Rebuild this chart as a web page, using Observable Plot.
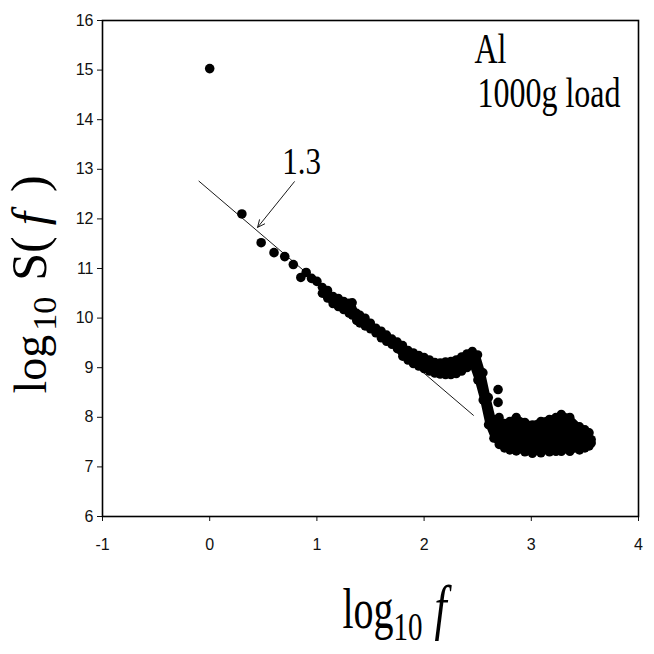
<!DOCTYPE html>
<html>
<head>
<meta charset="utf-8">
<script src="https://cdn.jsdelivr.net/npm/d3@7"></script>
<script src="https://cdn.jsdelivr.net/npm/@observablehq/plot@0.6"></script>
<style>
  html, body { margin: 0; padding: 0; background: #fff; }
  #chart { width: 654px; height: 654px; }
</style>
</head>
<body>
<div id="chart"></div>
<script>
// ---- data ----
const xTicks = [-1, 0, 1, 2, 3, 4];
const yTicks = [6, 7, 8, 9, 10, 11, 12, 13, 14, 15, 16];

// individually visible points (log10 f, log10 S(f))
const pointX = [0.00, 0.30, 0.48, 0.60, 0.70, 0.78, 0.85, 0.90, 0.95, 1.00, 2.69, 2.69];
const pointY = [15.03, 12.10, 11.52, 11.32, 11.24, 11.08, 10.82, 10.92, 10.80, 10.74, 8.56, 8.30];

// dense part of the spectrum: upper and lower envelope of the point cloud
const bandX  = [1.05, 1.10, 1.15, 1.20, 1.25, 1.30, 1.33, 1.37, 1.40, 1.45, 1.50, 1.55, 1.60, 1.65, 1.70, 1.75, 1.80, 1.85, 1.90, 1.95, 2.00, 2.05, 2.10, 2.15, 2.20, 2.25, 2.30, 2.35, 2.40, 2.45, 2.50, 2.55, 2.60, 2.65, 2.70, 2.75, 2.80, 2.86, 2.94, 3.01, 3.09, 3.17, 3.23, 3.28, 3.36, 3.45, 3.50, 3.54, 3.56];
const bandHi = [10.62, 10.56, 10.44, 10.40, 10.34, 10.30, 10.31, 10.10, 10.06, 10.00, 9.90, 9.80, 9.74, 9.66, 9.58, 9.52, 9.45, 9.35, 9.30, 9.25, 9.21, 9.16, 9.11, 9.10, 9.12, 9.13, 9.16, 9.22, 9.28, 9.33, 9.26, 8.90, 8.40, 7.95, 8.00, 7.88, 7.92, 8.00, 7.90, 7.85, 7.92, 7.96, 8.00, 8.06, 8.00, 7.81, 7.75, 7.69, 7.55];
const bandLo = [10.50, 10.40, 10.29, 10.23, 10.17, 10.10, 10.06, 9.95, 9.90, 9.84, 9.78, 9.70, 9.60, 9.53, 9.47, 9.38, 9.23, 9.15, 9.08, 9.03, 8.98, 8.93, 8.89, 8.87, 8.86, 8.86, 8.88, 8.93, 9.00, 9.06, 8.75, 8.35, 7.85, 7.58, 7.45, 7.38, 7.34, 7.32, 7.30, 7.27, 7.28, 7.30, 7.31, 7.31, 7.31, 7.34, 7.38, 7.42, 7.48];

// fitted straight line and its annotation
const fitX = [-0.10, 2.46];
const fitY = [12.76, 8.04];
const arrowFrom = [0.79, 12.75];
const arrowTo = [0.447, 11.83];
const slopeLabel = "1.3";
const slopePos = [0.857, 12.915];
const materialLabel = "Al";
const materialPos = [2.47, 15.153];
const loadLabel = "1000g load";
const loadPos = [2.498, 14.246];
const xLabelText = "log10 f";
const yLabelText = "log10 S(f)";

// ---- tables built from the arrays ----
const points = pointX.map((x, i) => ({x, y: pointY[i]}));
const band = bandX.map((x, i) => ({x, hi: bandHi[i], lo: bandLo[i]}));
const fit = fitX.map((x, i) => ({x, y: fitY[i]}));

const serif = "'Liberation Serif', 'Times New Roman', serif";

const chart = Plot.plot({
  width: 654,
  height: 654,
  marginLeft: 102,
  marginRight: 16,
  marginTop: 20,
  marginBottom: 138,
  style: {
    background: "#fff",
    color: "#111",
    fontFamily: "'Liberation Sans Narrow', 'Arial Narrow', 'Liberation Sans', sans-serif",
    fontSize: "16px"
  },
  x: {domain: [-1, 4]},
  y: {domain: [6, 16]},
  marks: [
    Plot.axisY({ticks: yTicks, tickSize: 5, tickPadding: 4, label: null, tickFormat: d => String(d), fontSize: 16}),
    Plot.axisX({ticks: xTicks, tickSize: 5, tickPadding: 17, label: null, tickFormat: d => String(d), fontSize: 16}),
    Plot.frame({stroke: "#000", strokeWidth: 1.6}),
    Plot.areaY(band, {x: "x", y1: "lo", y2: "hi", fill: "#000", stroke: "#000", strokeWidth: 5,
      strokeLinejoin: "round", strokeLinecap: "round", curve: "linear"}),
    Plot.dot(band, {x: "x", y: "hi", r: 4.6, fill: "#000"}),
    Plot.dot(band, {x: "x", y: "lo", r: 4.6, fill: "#000"}),
    Plot.dot(points, {x: "x", y: "y", r: 4.8, fill: "#000"}),
    Plot.line(fit, {x: "x", y: "y", stroke: "#000", strokeWidth: 0.9}),
    Plot.arrow([0], {x1: () => arrowFrom[0], y1: () => arrowFrom[1], x2: () => arrowTo[0], y2: () => arrowTo[1],
      stroke: "#000", strokeWidth: 0.9, headLength: 13, headAngle: 50}),
    Plot.text([slopeLabel], {x: () => slopePos[0], y: () => slopePos[1], text: d => d, textAnchor: "middle", lineAnchor: "bottom",
      fontFamily: serif, fontSize: 31, fill: "#000"}),
    Plot.text([materialLabel], {x: () => materialPos[0], y: () => materialPos[1], text: d => d, textAnchor: "start", lineAnchor: "bottom",
      fontFamily: serif, fontSize: 32, fill: "#000"}),
    Plot.text([loadLabel], {x: () => loadPos[0], y: () => loadPos[1], text: d => d, textAnchor: "start", lineAnchor: "bottom",
      fontFamily: serif, fontSize: 32, fill: "#000"}),
    Plot.text([xLabelText], {frameAnchor: "bottom", dx: -28, dy: 111, text: d => d, textAnchor: "start", lineAnchor: "bottom",
      fontFamily: serif, fontSize: 40, fill: "#000"}),
    Plot.text([yLabelText], {frameAnchor: "left", dx: -57, dy: 125, rotate: -90, text: d => d, textAnchor: "start", lineAnchor: "bottom",
      fontFamily: serif, fontSize: 46, fill: "#000"})
  ]
});
document.getElementById("chart").appendChild(chart);

// ---- typographic touches: vertical stretch and subscripts ----
function stretch(t, sy) {
  const tr = t.getAttribute("transform");
  if (tr) {
    t.setAttribute("transform", tr + ` scale(1,${sy})`);
  } else {
    const x = +t.getAttribute("x") || 0, y = +t.getAttribute("y") || 0;
    t.removeAttribute("x"); t.removeAttribute("y");
    t.setAttribute("transform", `translate(${x},${y}) scale(1,${sy})`);
  }
}
const texts = Array.from(chart.querySelectorAll("text"));
for (const t of texts) {
  const s = t.textContent;
  if (s === slopeLabel) stretch(t, 1.25);
  else if (s === materialLabel || s === loadLabel) stretch(t, 1.3);
  else if (s === xLabelText) {
    const sel = d3.select(t).text(null);
    sel.append("tspan").text("log");
    sel.append("tspan").attr("font-size", 29).attr("dy", 9).text("10");
    sel.append("tspan").attr("dy", -9).attr("dx", 12).attr("font-style", "italic").attr("font-size", 44).text("f");
    stretch(t, 1.4);
  } else if (s === yLabelText) {
    const sel = d3.select(t).text(null);
    sel.append("tspan").text("log");
    sel.append("tspan").attr("font-size", 34).attr("dy", 10).attr("dx", 4).text("10");
    sel.append("tspan").attr("dy", -10).attr("dx", 16).attr("font-size", 50).text("S(");
    sel.append("tspan").attr("dx", 11).attr("font-style", "italic").attr("font-size", 48).text("f");
    sel.append("tspan").attr("dx", 20).attr("font-size", 50).text(")");
  }
}
</script>
</body>
</html>
